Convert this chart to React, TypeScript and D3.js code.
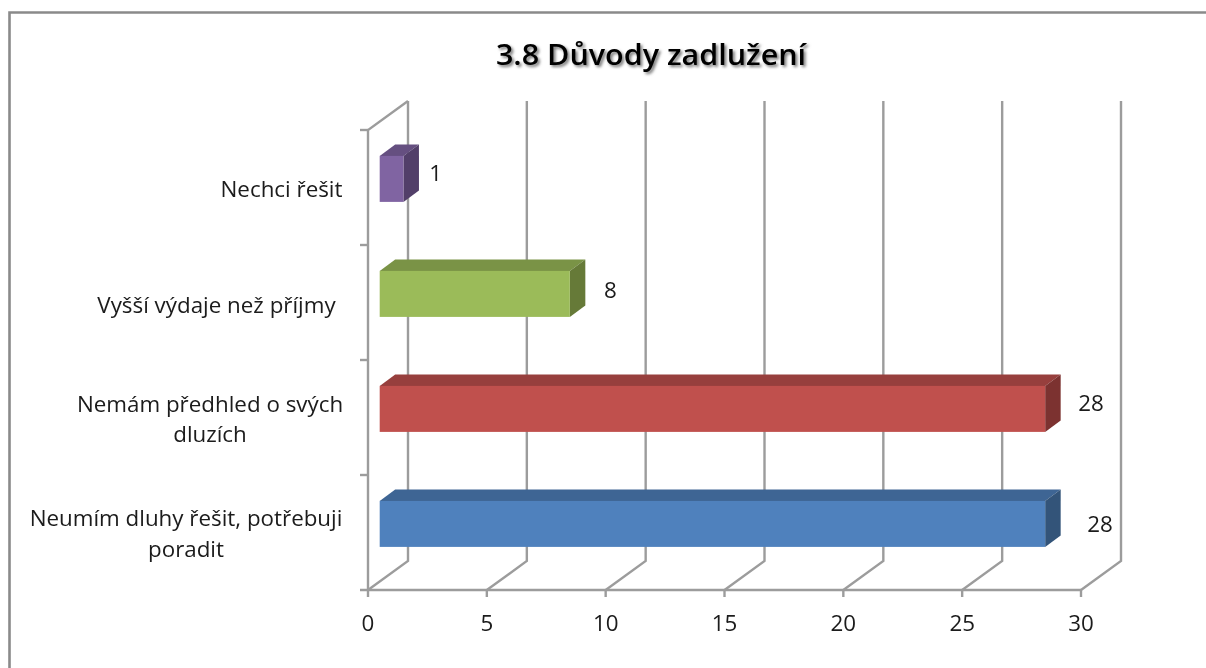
import React from "react";
import * as d3 from "d3";

const W = 1206, H = 668;
const title = "3.8 Důvody zadlužení";
const categories = ["Nechci řešit", "Vyšší výdaje než příjmy", "Nemám předhled o svých dluzích", "Neumím dluhy řešit, potřebuji poradit"];
const categoryLines = [["Nechci řešit"], ["Vyšší výdaje než příjmy"], ["Nemám předhled o svých", "dluzích"], ["Neumím dluhy řešit, potřebuji", "poradit"]];
const labelCx = [281.5, 216.5, 210, 186];
const labelBase = [197, 313, 411.5, 526];
const values = [1, 8, 28, 28];
const dataLabelX = [435.7, 610.5, 1091, 1100];
const dataLabelBase = [181, 298, 411, 532];
const fronts = ["#8064a2", "#9bbb59", "#c0504d", "#4f81bd"];
const tops = ["#654f80", "#7a9346", "#973f3d", "#3e6594"];
const sides = ["#523f69", "#667a38", "#7c3230", "#335479"];
const ticks = [0, 5, 10, 15, 20, 25, 30];

const font = "'Open Sans', sans-serif";
const x = d3.scaleLinear().domain([0, 30]).range([368, 1081]);
const y = d3.scaleBand<string>().domain(categories).range([130, 590]).paddingInner(0.6).paddingOuter(0.3);
const dx = 40, dy = -29;
const barInset = 11.7, barDx = 15.5, barDy = -11.5, barShift = -8.6;
const grey = "#9c9c9c";
const poly = (pts: [number, number][]) => d3.line()(pts) + "Z";

function T({ x: tx, y: ty, sx = 1.065, children, ...rest }: any) {
  return <text transform={`translate(${tx} ${ty}) scale(${sx} 1)`} {...rest}>{children}</text>;
}

export default function App() {
  const top = 130, bottom = 590;
  return (
    <svg width={W} height={H} style={{ position: "absolute", left: 0, top: 0, background: "#fff" }}>
      <defs>
        <filter id="ts" x="-10%" y="-30%" width="120%" height="170%">
          <feGaussianBlur stdDeviation="1.6" />
        </filter>
        <filter id="soft" x="-5%" y="-20%" width="110%" height="140%">
          <feGaussianBlur stdDeviation="0.35" />
        </filter>
      </defs>
      <path d={`M9.5 ${H}V12.5H${W}`} fill="none" stroke="#8a8a8a" strokeWidth={2.6} />
      <g fontFamily={font} fontSize={28} fontWeight={600} textAnchor="middle">
        <T x={653} y={66.5} sx={1.09} fill="#777" filter="url(#ts)">{title}</T>
        <T x={651} y={65} sx={1.09} fill="#000" filter="url(#soft)">{title}</T>
      </g>
      {/* walls */}
      <g fill="none" stroke={grey} strokeWidth={2.4}>
        {ticks.map(t => (
          <g key={t}>
            <path d={`M${x(t)} ${bottom}L${x(t) + dx} ${bottom + dy}V${top + dy}`} />
            <path d={`M${x(t)} ${bottom}V${bottom + 7}`} />
          </g>
        ))}
        <path d={`M${x(0) - 8} ${bottom}H${x(30)}`} />
        <path d={`M${x(0)} ${bottom}V${top}L${x(0) + dx} ${top + dy}`} />
        {d3.range(4).map(i => {
          const yy = top + (i * (bottom - top)) / 4;
          return <path key={i} d={`M${x(0) - 8} ${yy}H${x(0)}`} />;
        })}
      </g>
      {/* bars */}
      {categories.map((c, i) => {
        const x0 = x(0) + barInset;
        const x1 = x(values[i]) + barInset;
        const y0 = (y(c) as number) + barShift;
        const y1 = y0 + y.bandwidth();
        return (
          <g key={c}>
            <path d={poly([[x0, y0], [x0 + barDx, y0 + barDy], [x1 + barDx, y0 + barDy], [x1, y0]])} fill={tops[i]} />
            <path d={poly([[x1, y0], [x1 + barDx, y0 + barDy], [x1 + barDx, y1 + barDy], [x1, y1]])} fill={sides[i]} />
            <rect x={x0} y={y0} width={x1 - x0} height={y1 - y0} fill={fronts[i]} />
          </g>
        );
      })}
      {/* text */}
      <g fontFamily={font} fontSize={21} fill="#1a1a1a" textAnchor="middle" filter="url(#soft)">
        {values.map((v, i) => (
          <T key={i} x={dataLabelX[i]} y={dataLabelBase[i]}>{v}</T>
        ))}
        {ticks.map(t => (
          <T key={t} x={x(t)} y={631}>{t}</T>
        ))}
        {categoryLines.map((lines, i) =>
          lines.map((l, j) => (
            <T key={j} x={labelCx[i]} y={labelBase[i] + j * 30.5}>{l}</T>
          ))
        )}
      </g>
    </svg>
  );
}
